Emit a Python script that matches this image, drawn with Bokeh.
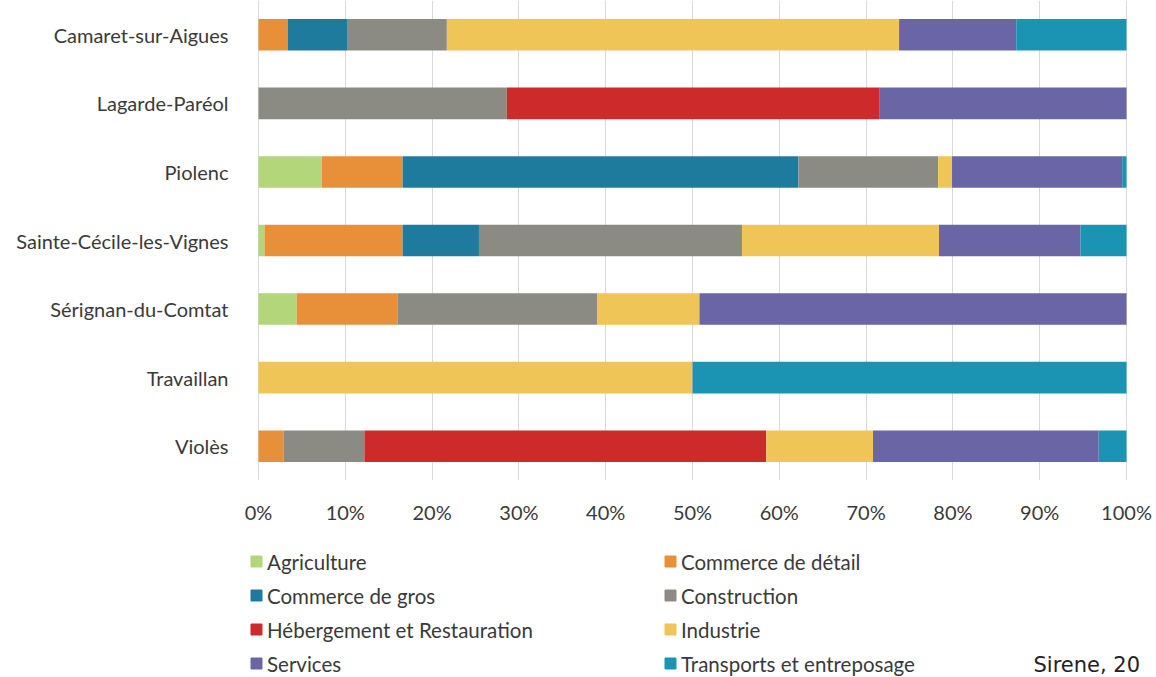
from bokeh.plotting import figure
from bokeh.models import ColumnDataSource, FactorRange, Range1d, FixedTicker, PrintfTickFormatter
from bokeh.layouts import column
from bokeh.embed import file_html
from bokeh.resources import INLINE
from bokeh.core.properties import value

communes = ["Camaret-sur-Aigues", "Lagarde-Paréol", "Piolenc", "Sainte-Cécile-les-Vignes",
            "Sérignan-du-Comtat", "Travaillan", "Violès"]
sectors = ["Agriculture", "Commerce de détail", "Commerce de gros", "Construction",
           "Hébergement et Restauration", "Industrie", "Services", "Transports et entreposage"]
colors = ["#b3d67a", "#e88f3a", "#1e7b9e", "#8b8b83", "#cd2b2b", "#eec556", "#6a66a5", "#1b93b3"]

# shares (%) per commune, same order as communes
agriculture = [0.0, 0.0, 7.3, 0.7, 4.4, 0.0, 0.0]
commerce_detail = [3.4, 0.0, 9.3, 15.9, 11.6, 0.0, 2.9]
commerce_gros = [6.8, 0.0, 45.6, 8.8, 0.0, 0.0, 0.0]
construction = [11.5, 28.6, 16.1, 30.3, 23.0, 0.0, 9.3]
hebergement = [0.0, 42.9, 0.0, 0.0, 0.0, 0.0, 46.3]
industrie = [52.1, 0.0, 1.6, 22.7, 11.8, 50.0, 12.3]
services = [13.5, 28.5, 19.6, 16.3, 49.2, 0.0, 26.0]
transports = [12.7, 0.0, 0.5, 5.3, 0.0, 50.0, 3.2]

tick_values = [0, 10, 20, 30, 40, 50, 60, 70, 80, 90, 100]
source_note = "Sirene, 20"

FONT = "Lato"
TXT = "#3a3a3a"
W = 1156
LEFT = 240          # frame left edge (px)
X0_PX, X100_PX = 258, 1126   # pixel positions of 0% and 100%
PPU = (X100_PX - X0_PX) / 100.0

data = dict(commune=communes)
for name, vals in zip(sectors, [agriculture, commerce_detail, commerce_gros, construction,
                                hebergement, industrie, services, transports]):
    data[name] = vals
src = ColumnDataSource(data)

p = figure(width=W, height=530, y_range=FactorRange(*reversed(communes)),
           x_range=Range1d(-(X0_PX - LEFT) / PPU, 100 + (W - X100_PX) / PPU),
           output_backend="svg", toolbar_location=None,
           min_border_left=LEFT, min_border_right=0, min_border_top=0, min_border_bottom=50)
p.outline_line_color = None
p.hbar_stack(sectors, y="commune", height=0.46, color=colors, source=src, line_color=None)

p.xaxis.ticker = FixedTicker(ticks=tick_values)
p.xaxis.formatter = PrintfTickFormatter(format="%d%%")
p.xaxis.axis_line_color = None
p.xaxis.major_tick_line_color = None
p.xaxis.minor_tick_line_color = None
p.xaxis.major_label_standoff = 13
p.xaxis.major_label_text_font = FONT
p.xaxis.major_label_text_font_size = "20px"
p.xaxis.major_label_text_color = TXT

p.yaxis.axis_line_color = None
p.yaxis.major_tick_line_color = None
p.yaxis.minor_tick_line_color = None
p.yaxis.major_label_standoff = 6
p.yaxis.major_label_text_font = FONT
p.yaxis.major_label_text_font_size = "20px"
p.yaxis.major_label_text_color = TXT

p.xgrid.ticker = FixedTicker(ticks=tick_values)
p.xgrid.grid_line_color = "#d9d9d9"
p.ygrid.grid_line_color = None

# legend figure (frame aligned with the chart's frame; data x = page pixel x)
leg = figure(width=W, height=147, x_range=Range1d(LEFT, W), y_range=Range1d(147, 0),
             output_backend="svg", toolbar_location=None,
             min_border_left=LEFT, min_border_right=0, min_border_top=0, min_border_bottom=0)
leg.outline_line_color = None
leg.axis.visible = False
leg.grid.visible = False
lx = [256 + (i % 2) * 414 for i in range(len(sectors))]
ly = [31 + (i // 2) * 34 for i in range(len(sectors))]
lsrc = ColumnDataSource(dict(x=lx, y=ly, tx=[v + 10.5 for v in lx], c=colors, t=sectors))
leg.rect(x="x", y="y", width=11, height=11, color="c", source=lsrc)
leg.text(x="tx", y="y", text="t", source=lsrc, text_font=value(FONT), text_font_size="20.5px",
         text_color=TXT, text_baseline="middle")
leg.text(x=[1033], y=[134], text=[source_note], text_font=value("DejaVu Sans"), text_font_size="21px",
         text_color="#222222", text_baseline="middle")

layout = column(p, leg, spacing=0)
open("out.html", "w").write(file_html(layout, INLINE))
